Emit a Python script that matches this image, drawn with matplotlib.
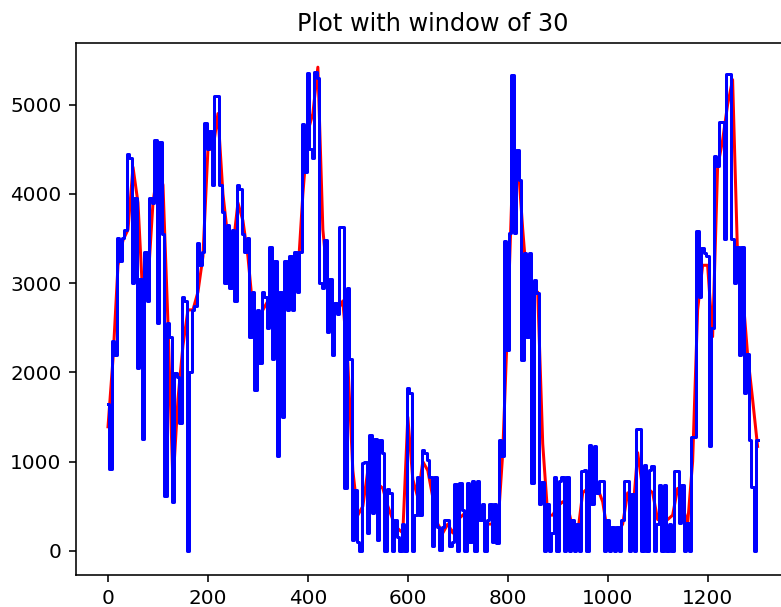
import numpy as np
import matplotlib
matplotlib.use('Agg')
import matplotlib.pyplot as plt

# blue series, one value every 5 steps (0..1300)
blue = [
    1650, 920, 2350, 2200, 3500, 3250, 3500, 3600, 4450, 4400,
    3000, 3950, 2050, 3050, 1250, 3350, 2800, 3950, 3900, 4600,
    2550, 4580, 3550, 620, 2550, 2400, 550, 1990, 1950, 1430,
    2850, 2800, 0, 2000, 2700, 2740, 3450, 3200, 3350, 4790,
    4500, 4700, 4100, 5100, 5100, 4100, 3800, 3000, 3650, 2950,
    3600, 2800, 4100, 4050, 3550, 3350, 3500, 2400, 2900, 1800,
    2700, 2100, 2900, 2850, 2500, 3400, 2150, 3250, 1060, 2900,
    1500, 3250, 2700, 3300, 2700, 3350, 2900, 3350, 4780, 4250,
    5350, 4500, 4400, 5370, 5300, 3000, 2950, 3480, 2450, 3050,
    2200, 2780, 2650, 3630, 3630, 700, 2950, 2150, 120, 680,
    100, 0, 980, 1000, 200, 1300, 420, 1250, 120, 1240,
    1100, 0, 690, 650, 0, 350, 160, 0, 300, 0,
    1820, 1770, 0, 400, 830, 400, 1130, 1100, 1020, 830,
    50, 830, 270, 10, 270, 350, 350, 50, 100, 750,
    0, 760, 460, 0, 760, 100, 780, 0, 780, 350,
    530, 0, 350, 530, 100, 530, 90, 1240, 1060, 3470,
    2250, 3560, 5330, 3560, 4490, 4150, 2140, 3340, 2400, 3340,
    760, 3040, 2890, 530, 770, 0, 530, 0, 200, 830,
    0, 780, 830, 0, 830, 0, 350, 0, 300, 0,
    900, 910, 0, 1190, 530, 1170, 650, 780, 780, 0,
    350, 0, 270, 0, 270, 0, 350, 780, 780, 0,
    640, 0, 1360, 1360, 0, 960, 0, 910, 950, 0,
    300, 740, 0, 740, 0, 300, 0, 890, 890, 310,
    740, 0, 310, 0, 1280, 1280, 3580, 2850, 3390, 3340,
    3300, 1170, 2500, 4420, 4310, 4810, 4810, 3490, 5340, 5340,
    3490, 3000, 3400, 2200, 3400, 1770, 2210, 1240, 720, 0, 1240,
]

# red (windowed) series, one value every 10 steps (0..1300)
red = [
    1390, 2150, 3200, 3480, 3600, 4300, 3900, 2800, 3000, 3900,
    4300, 4100, 2550, 750, 1700, 2300, 2700, 2700, 2900, 3300,
    4500, 4500, 4900, 4000, 3500, 3400, 3900, 3700, 3300, 2700,
    2600, 2700, 2800, 2900, 2400, 2700, 2900, 2900, 3100, 4000,
    4700, 4900, 5420, 3600, 3000, 2700, 2700, 2800, 2100, 900,
    400, 500, 900, 700, 750, 700, 500, 350, 250, 200,
    1500, 800, 600, 1000, 900, 600, 300, 200, 300, 200,
    350, 400, 450, 500, 400, 350, 300, 300, 250, 1100,
    2600, 4300, 4400, 3600, 2900, 2900, 2900, 1200, 400, 400,
    500, 550, 500, 250, 200, 650, 700, 850, 700, 550,
    200, 200, 200, 300, 650, 400, 1100, 700, 700, 650,
    350, 450, 350, 400, 700, 500, 300, 1000, 2700, 3200,
    3200, 2400, 4300, 4600, 5000, 5280, 3300, 2900, 2200, 1700, 1170,
]

x_blue = np.arange(len(blue)) * 5
x_red = np.arange(len(red)) * 10

fig = plt.figure(figsize=(781 / 144, 607 / 144), dpi=144)
ax = fig.add_axes([0.0967, 0.0527, 0.9149, 0.8765])

ax.plot(x_red, red, color='red')
ax.plot(x_blue, blue, color='blue', drawstyle='steps-mid')
ax.set_title('Plot with window of 30')

fig.savefig('out.png', dpi=144)
